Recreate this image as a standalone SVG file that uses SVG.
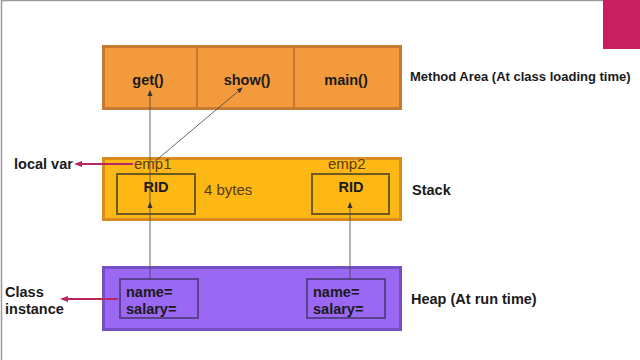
<svg xmlns="http://www.w3.org/2000/svg" width="640" height="360" viewBox="0 0 640 360">
<style>
.b{font-family:"Liberation Sans",Arial,sans-serif;font-weight:bold;font-size:14.5px;fill:#1a1a1a}
.n{font-family:"Liberation Sans",Arial,sans-serif;font-size:15px;fill:#5a3a10}
.ln{stroke:#444;stroke-width:0.8;fill:none}
.pk{stroke:#b8255f;stroke-width:2;fill:none}
</style>
<defs>
<marker id="ah" markerWidth="6" markerHeight="6" refX="5" refY="3" orient="auto" markerUnits="userSpaceOnUse"><path d="M0,0.5 L6,3 L0,5.5 z" fill="#333"/></marker>
<marker id="ap" markerWidth="8" markerHeight="8" refX="6" refY="4" orient="auto" markerUnits="userSpaceOnUse"><path d="M0,1 L8,4 L0,7 z" fill="#b8255f"/></marker>
</defs>
<rect x="0" y="0" width="640" height="360" fill="#fff"/>
<path d="M1.5,360 V0.5 H640" stroke="#9a9a9a" stroke-width="1.5" fill="none"/>
<rect x="603" y="0" width="37" height="49" fill="#c71f5f"/>
<g id="method-area">
<rect x="103.5" y="46.5" width="297" height="62" fill="#f39a3c" stroke="#c57a30" stroke-width="3"/>
<line x1="197" y1="46" x2="197" y2="109" stroke="#c57a30" stroke-width="2"/>
<line x1="294" y1="46" x2="294" y2="109" stroke="#c57a30" stroke-width="2"/>
<text class="b" x="148" y="85" text-anchor="middle">get()</text>
<text class="b" x="247" y="85" text-anchor="middle">show()</text>
<text class="b" x="346" y="85" text-anchor="middle">main()</text>
<text class="b" x="410" y="81" style="font-size:13px">Method Area (At class loading time)</text>
</g>
<g id="stack">
<rect x="103.5" y="158.5" width="297" height="61" fill="#fdb815" stroke="#d98b1e" stroke-width="3"/>
<rect x="117" y="174" width="78" height="40" fill="none" stroke="#6e5a20" stroke-width="2"/>
<rect x="312" y="174" width="77" height="40" fill="none" stroke="#6e5a20" stroke-width="2"/>
<text class="n" x="134" y="169">emp1</text>
<text class="n" x="328" y="169">emp2</text>
<text class="b" x="156" y="192" text-anchor="middle">RID</text>
<text class="b" x="351" y="192" text-anchor="middle">RID</text>
<text class="n" x="204" y="195">4 bytes</text>
<text class="b" x="412" y="195">Stack</text>
<text class="b" x="14" y="169">local var</text>
</g>
<g id="heap">
<rect x="103.5" y="267.5" width="297" height="62" fill="#9a68f2" stroke="#7550c4" stroke-width="3"/>
<rect x="120" y="279" width="78" height="39" fill="none" stroke="#5b4290" stroke-width="2"/>
<rect x="307" y="279" width="78" height="39" fill="none" stroke="#5b4290" stroke-width="2"/>
<text class="b" x="126" y="297">name=</text>
<text class="b" x="126" y="314">salary=</text>
<text class="b" x="313" y="297">name=</text>
<text class="b" x="313" y="314">salary=</text>
<text class="b" x="411" y="304">Heap  (At run time)</text>
<text class="b" x="5" y="297">Class</text>
<text class="b" x="5" y="314">instance</text>
</g>
<g id="connectors">
<line class="ln" x1="150" y1="204" x2="150" y2="91" marker-end="url(#ah)"/>
<line class="ln" x1="153" y1="163" x2="242" y2="88" marker-end="url(#ah)"/>
<line class="ln" x1="150" y1="280" x2="150" y2="203" marker-end="url(#ah)"/>
<line class="ln" x1="350" y1="280" x2="350" y2="203" marker-end="url(#ah)"/>
<line class="pk" x1="133" y1="164" x2="76" y2="164" marker-end="url(#ap)"/>
<line class="pk" x1="118" y1="299" x2="62" y2="299" marker-end="url(#ap)"/>
</g>
</svg>
